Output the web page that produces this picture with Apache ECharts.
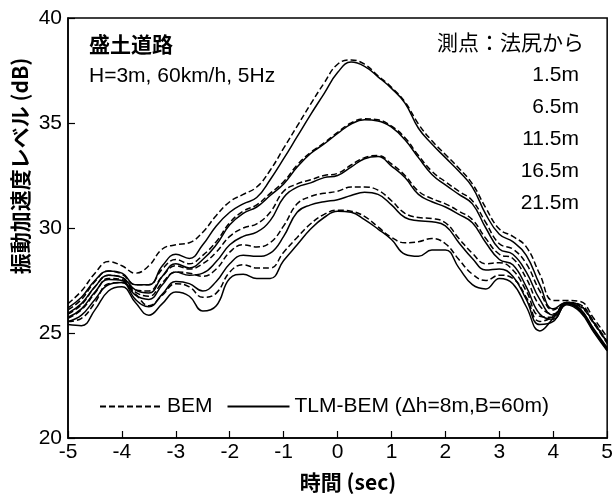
<!DOCTYPE html>
<html>
<head>
<meta charset="utf-8">
<script src="https://cdn.jsdelivr.net/npm/echarts@6/dist/echarts.min.js"></script>
<style>
  html, body { margin: 0; padding: 0; background: #fff; }
  #chart { width: 616px; height: 497px; }
</style>
</head>
<body>
<div id="chart"></div>
<script>
// time axis (sec)
const timeSec = [-5, -4.75, -4.5, -4.25, -4, -3.75, -3.5, -3.25, -3, -2.75, -2.5, -2.25, -2, -1.75, -1.5, -1.25, -1, -0.75, -0.5, -0.25,
  0, 0.25, 0.5, 0.75, 1, 1.25, 1.5, 1.75, 2, 2.25, 2.5, 2.75, 3, 3.25, 3.5, 3.75, 4, 4.25, 4.5, 4.75, 5];

// TLM-BEM (solid) / BEM (dashed), 測点ごと
const tlm15 = [26.2, 26.7, 27.5, 27.95, 27.85, 27.3, 27.3, 28.2, 28.75, 28.55, 29.2, 30.1, 30.75, 31.15, 31.45, 32.3, 33.3, 34.35, 35.4, 36.4,
  37.4, 37.9, 37.7, 37.2, 36.65, 35.95, 34.75, 34.0, 33.35, 32.7, 31.95, 30.65, 29.7, 29.35, 28.7, 27.3, 26.15, 26.45, 26.15, 25.2, 24.3];
const bem15 = [26.4, 27.0, 27.85, 28.4, 28.2, 27.85, 28.2, 29.0, 29.2, 29.3, 29.8, 30.6, 31.25, 31.6, 31.95, 32.75, 33.8, 34.85, 35.9, 36.9,
  37.8, 38.0, 37.8, 37.25, 36.7, 36.0, 34.95, 34.15, 33.5, 32.85, 32.1, 30.95, 29.95, 29.6, 29.1, 27.8, 26.55, 26.55, 26.5, 25.7, 24.8];

const tlm65 = [25.95, 26.4, 27.2, 27.75, 27.65, 27.05, 26.9, 27.7, 28.3, 28.1, 28.5, 29.2, 30.15, 30.7, 31.0, 31.55, 32.1, 32.9, 33.55, 34.0,
  34.5, 34.95, 35.15, 35.1, 34.8, 34.2, 33.35, 32.55, 32.05, 31.6, 31.15, 30.0, 29.0, 28.75, 27.9, 26.6, 25.85, 26.4, 26.1, 25.15, 24.25];
const bem65 = [26.1, 26.6, 27.45, 27.95, 27.8, 27.3, 27.3, 28.05, 28.5, 28.3, 28.7, 29.35, 30.25, 30.8, 31.1, 31.65, 32.2, 33.0, 33.6, 34.05,
  34.55, 35.0, 35.2, 35.15, 34.85, 34.3, 33.45, 32.7, 32.2, 31.75, 31.3, 30.25, 29.25, 29.0, 28.3, 27.0, 26.1, 26.45, 26.35, 25.55, 24.6];

const tlm115 = [25.75, 26.15, 26.95, 27.55, 27.5, 26.8, 26.6, 27.3, 27.9, 27.75, 27.85, 28.4, 29.2, 29.6, 29.8, 30.35, 31.45, 31.95, 32.15, 32.4,
  32.5, 32.9, 33.3, 33.4, 32.95, 32.4, 31.6, 31.25, 31.0, 30.65, 30.25, 29.3, 28.5, 28.25, 27.2, 25.9, 25.65, 26.4, 26.05, 25.1, 24.2];
const bem115 = [25.9, 26.35, 27.2, 27.75, 27.65, 27.05, 27.0, 27.7, 28.2, 28.05, 28.3, 28.85, 29.6, 30.0, 30.2, 30.75, 31.75, 32.1, 32.3, 32.5,
  32.6, 33.0, 33.35, 33.45, 33.05, 32.5, 31.75, 31.4, 31.15, 30.8, 30.4, 29.5, 28.75, 28.55, 27.6, 26.3, 25.9, 26.45, 26.3, 25.5, 24.55];

const tlm165 = [25.55, 25.85, 26.6, 27.3, 27.4, 26.6, 26.25, 26.85, 27.45, 27.35, 27.0, 27.45, 28.3, 28.7, 28.65, 28.8, 29.6, 30.75, 31.1, 31.25,
  31.35, 31.55, 31.7, 31.6, 31.1, 30.5, 30.35, 30.3, 30.1, 29.3, 28.55, 28.0, 28.05, 27.7, 26.6, 25.4, 25.55, 26.35, 26.0, 25.05, 24.15];
const bem165 = [25.7, 26.1, 26.9, 27.6, 27.55, 26.95, 26.75, 27.4, 27.9, 27.85, 27.7, 28.05, 28.85, 29.2, 29.1, 29.3, 30.1, 31.15, 31.5, 31.65,
  31.75, 31.95, 31.95, 31.8, 31.3, 30.7, 30.5, 30.45, 30.25, 29.5, 28.8, 28.3, 28.35, 28.0, 27.0, 25.8, 25.75, 26.4, 26.25, 25.45, 24.5];

const tlm215 = [25.4, 25.35, 26.1, 27.0, 27.2, 26.45, 25.85, 26.4, 26.95, 26.75, 26.05, 26.3, 27.6, 27.8, 27.6, 27.6, 28.45, 29.2, 29.95, 30.5,
  30.8, 30.75, 30.4, 29.95, 29.45, 28.75, 28.65, 28.95, 28.95, 28.1, 27.3, 27.1, 27.6, 27.35, 26.25, 25.1, 25.7, 26.4, 26.1, 25.1, 24.2];
const bem215 = [25.55, 25.7, 26.45, 27.35, 27.4, 26.85, 26.3, 26.8, 27.35, 27.2, 26.7, 26.9, 27.9, 28.25, 28.1, 28.1, 28.85, 29.55, 30.2, 30.65,
  30.85, 30.8, 30.55, 30.05, 29.55, 29.3, 29.35, 29.5, 29.25, 28.5, 27.8, 27.5, 27.75, 27.6, 26.7, 25.55, 25.8, 26.45, 26.3, 25.5, 24.55];

const pointLabels = ['1.5m', '6.5m', '11.5m', '16.5m', '21.5m'];
const bemName = 'BEM';
const tlmName = 'TLM-BEM (Δh=8m,B=60m)';

const latin = '"Liberation Sans", Arial, sans-serif';
const cjk = '"Noto Sans CJK JP", sans-serif';

function pairs(vals) {
  return timeSec.map((t, i) => [t, vals[i]]);
}

function makeLine(name, vals, dashed) {
  return {
    name: name,
    type: 'line',
    data: pairs(vals),
    symbol: 'none',
    smooth: 0.45,
    lineStyle: {
      color: '#000',
      width: 1.5,
      type: dashed ? [6, 3] : 'solid',
    },
    itemStyle: { color: '#000' },
  };
}

let myChart = echarts.init(document.getElementById('chart'));

let option = {
  animation: false,
  backgroundColor: '#fff',
  grid: {
    left: 68,
    right: 4,
    top: 18,
    bottom: 59,
    show: true,
    borderColor: '#000',
    borderWidth: 1.5,
  },
  legend: {
    left: 94,
    top: 391,
    itemWidth: 62,
    itemHeight: 14,
    itemGap: 14,
    data: [bemName, tlmName],
    itemStyle: { opacity: 0 }, // 凡例は線だけ
    textStyle: {
      color: '#000',
      fontSize: 21,
      fontFamily: latin,
    },
  },
  xAxis: {
    type: 'value',
    min: -5,
    max: 5,
    interval: 1,
    axisLine: { show: true, onZero: false, lineStyle: { color: '#000', width: 1.5 } },
    axisTick: { show: true, inside: true, length: 7, lineStyle: { color: '#000', width: 1.2 } },
    axisLabel: {
      color: '#000',
      fontSize: 21,
      fontFamily: latin,
      margin: 4,
      showMaxLabel: true,
      showMinLabel: true,
    },
    splitLine: { show: false },
  },
  yAxis: {
    type: 'value',
    min: 20,
    max: 40,
    interval: 5,
    axisLine: { show: true, onZero: false, lineStyle: { color: '#000', width: 1.5 } },
    axisTick: { show: true, inside: true, length: 7, lineStyle: { color: '#000', width: 1.2 } },
    axisLabel: {
      color: '#000',
      fontSize: 21,
      fontFamily: latin,
      margin: 6,
    },
    splitLine: { show: false },
  },
  graphic: [
    {
      type: 'text', x: 89, y: 44,
      style: { text: '盛土道路', font: 'bold 21px ' + cjk, fill: '#000', verticalAlign: 'middle' },
    },
    {
      type: 'text', x: 89, y: 76,
      style: { text: 'H=3m, 60km/h, 5Hz', font: '21px ' + latin, fill: '#000', verticalAlign: 'middle' },
    },
    {
      type: 'text', x: 584, y: 42,
      style: { text: '測点：法尻から', font: '21px ' + cjk, fill: '#000', align: 'right', verticalAlign: 'middle' },
    },
    ...pointLabels.map((t, i) => ({
      type: 'text', x: 579, y: 75 + i * 32,
      style: { text: t, font: '21px ' + latin, fill: '#000', align: 'right', verticalAlign: 'middle' },
    })),
    {
      type: 'text', x: 20, y: 166, rotation: Math.PI / 2,
      style: { text: '振動加速度レベル (dB)', font: 'bold 21px ' + cjk, fill: '#000', align: 'center', verticalAlign: 'middle' },
    },
    {
      type: 'text', x: 348, y: 482,
      style: { text: '時間 (sec)', font: 'bold 21px ' + cjk, fill: '#000', align: 'center', verticalAlign: 'middle' },
    },
  ],
  series: [
    makeLine(bemName, bem15, true),
    makeLine(tlmName, tlm15, false),
    makeLine(bemName, bem65, true),
    makeLine(tlmName, tlm65, false),
    makeLine(bemName, bem115, true),
    makeLine(tlmName, tlm115, false),
    makeLine(bemName, bem165, true),
    makeLine(tlmName, tlm165, false),
    makeLine(bemName, bem215, true),
    makeLine(tlmName, tlm215, false),
  ],
};

myChart.setOption(option, true);
window.addEventListener('resize', () => {
  myChart.resize();
});
</script>
</body>
</html>
